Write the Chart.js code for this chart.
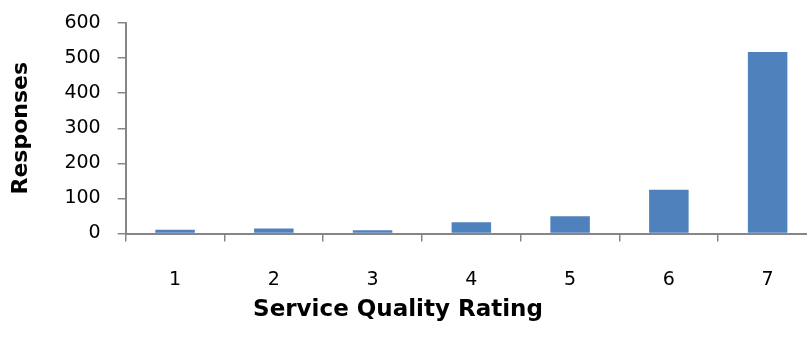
<!DOCTYPE html>
<html>
<head>
<meta charset="utf-8">
<script src="https://cdn.jsdelivr.net/npm/chart.js@4/dist/chart.umd.min.js"></script>
<style>
  html, body { margin: 0; padding: 0; overflow: hidden; background: #fff; }
  #wrap { width: 817px; height: 339px; }
</style>
</head>
<body>
<div id="wrap"><canvas id="myChart"></canvas></div>
<script>
const ratings = ["1", "2", "3", "4", "5", "6", "7"];
const responses = [11, 14, 9, 32, 49, 125, 517];
const yTitle = "Responses";
const xTitle = "Service Quality Rating";

const axisColor = "#868686";
const barColor = "#4F81BD";
const fontName = "DejaVu Sans";

// draws the x axis title where the original had it (not centred on the plot)
const xTitlePlugin = {
  id: "xTitle",
  afterDraw(chart) {
    const c = chart.ctx;
    c.save();
    c.font = 'bold 23px "' + fontName + '"';
    c.fillStyle = "#000";
    c.textAlign = "center";
    c.textBaseline = "middle";
    c.fillText(xTitle, 398, 310);
    c.restore();
  },
};

var ctx = document.getElementById("myChart").getContext("2d");
var myChart = new Chart(ctx, {
  type: "bar",
  data: {
    labels: ratings,
    datasets: [
      {
        label: yTitle,
        data: responses,
        backgroundColor: barColor,
        barPercentage: 0.4,
        categoryPercentage: 1.0,
      },
    ],
  },
  options: {
    responsive: true,
    maintainAspectRatio: false,
    animation: false,
    layout: { padding: { top: 23, left: 0, right: 0, bottom: 0 } },
    plugins: {
      legend: { display: false },
      tooltip: { enabled: false },
    },
    scales: {
      x: {
        grid: {
          display: true,
          drawOnChartArea: false,
          drawTicks: true,
          tickLength: 8,
          color: axisColor,
          lineWidth: 1.5,
        },
        border: { color: axisColor, width: 2 },
        ticks: {
          color: "#000",
          padding: 27,
          font: { family: fontName, size: 19 },
        },
        afterFit: (scale) => {
          scale.height = 105.5;
          scale.paddingTop = 0;
          scale.paddingBottom = 0;
        },
      },
      y: {
        min: 0,
        max: 600,
        grid: {
          display: true,
          drawOnChartArea: false,
          drawTicks: true,
          tickLength: 8,
          color: axisColor,
          lineWidth: 1.5,
        },
        border: { color: axisColor, width: 2 },
        ticks: {
          stepSize: 100,
          color: "#000",
          padding: 17,
          font: { family: fontName, size: 19 },
        },
        title: {
          display: true,
          text: yTitle,
          color: "#000",
          padding: { top: 8, bottom: 0 },
          font: { family: fontName, size: 22, weight: "bold" },
        },
        afterFit: (scale) => {
          scale.width = 125.7;
          scale.paddingTop = 0;
          scale.paddingBottom = 0;
        },
      },
    },
  },
  plugins: [xTitlePlugin],
});
</script>
</body>
</html>
